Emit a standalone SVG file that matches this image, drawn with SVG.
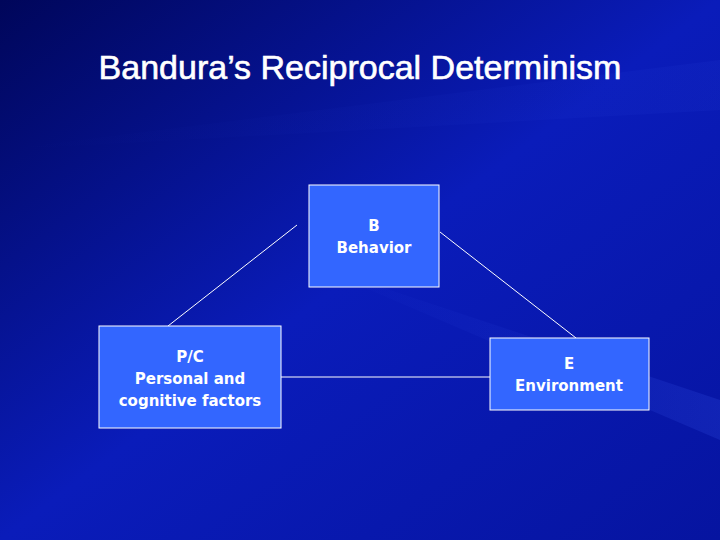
<svg xmlns="http://www.w3.org/2000/svg" width="720" height="540" viewBox="0 0 720 540">
<defs>
<linearGradient id="bg" x1="0" y1="0" x2="1" y2="1">
<stop offset="0" stop-color="#00065a"/>
<stop offset="0.5" stop-color="#0a1cba"/>
<stop offset="1" stop-color="#0614a0"/>
</linearGradient>
<linearGradient id="streak" x1="0" y1="0" x2="1" y2="0">
<stop offset="0" stop-color="#2a45e0" stop-opacity="0"/>
<stop offset="1" stop-color="#3a5af0" stop-opacity="0.5"/>
</linearGradient>
<style>
.box{fill:#3366ff;stroke:#ffffff;stroke-width:1}
.lbl{font-family:"DejaVu Sans",Verdana,sans-serif;font-size:15px;font-weight:bold;fill:#ffffff;text-anchor:middle}
.con{stroke:#ffffff;stroke-width:1;fill:none}
</style>
</defs>
<rect width="720" height="540" fill="url(#bg)"/>
<path d="M300 260 L720 400 L720 440 Z" fill="url(#streak)" opacity="0.4"/>
<path d="M0 150 L720 60 L720 110 Z" fill="url(#streak)" opacity="0.15"/>
<text x="360" y="79" font-family="Liberation Sans,Arial,sans-serif" font-size="34" fill="#ffffff" stroke="#ffffff" stroke-width="0.6" text-anchor="middle">Bandura’s Reciprocal Determinism</text>
<g id="connectors">
<line class="con" x1="297" y1="225" x2="168" y2="326"/>
<line class="con" x1="440" y1="232" x2="576" y2="338"/>
<line class="con" x1="281" y1="377" x2="490" y2="377"/>
</g>
<g id="behavior">
<rect class="box" x="309" y="185" width="130" height="102"/>
<text class="lbl" x="374" y="231">B</text>
<text class="lbl" x="374" y="253">Behavior</text>
</g>
<g id="personal">
<rect class="box" x="99" y="326" width="182" height="102"/>
<text class="lbl" x="190" y="362">P/C</text>
<text class="lbl" x="190" y="384">Personal and</text>
<text class="lbl" x="190" y="406">cognitive factors</text>
</g>
<g id="environment">
<rect class="box" x="490" y="338" width="159" height="72"/>
<text class="lbl" x="569" y="369">E</text>
<text class="lbl" x="569" y="391">Environment</text>
</g>
</svg>
